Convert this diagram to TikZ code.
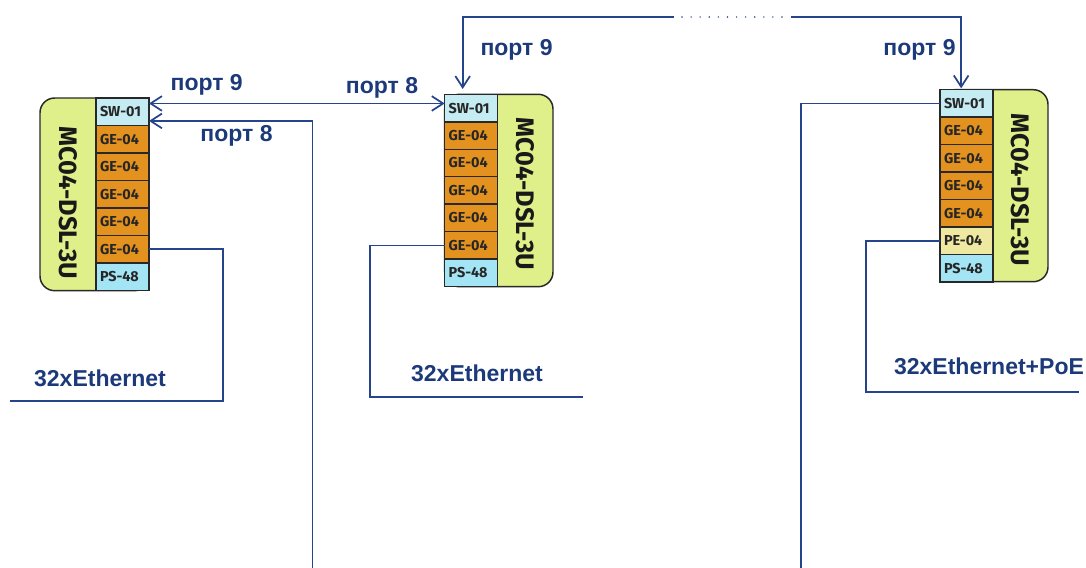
\documentclass[tikz,border=0pt]{standalone}
\usepackage{fontspec}
\setmainfont{Liberation Sans}
\newfontfamily\slotfnt{Fira Sans}
\usetikzlibrary{arrows.meta}
\definecolor{linecol}{RGB}{38,68,140}
\definecolor{txtcol}{RGB}{28,58,122}
\definecolor{bordcol}{RGB}{40,40,40}
\definecolor{swcol}{RGB}{196,236,242}
\definecolor{gecol}{RGB}{227,146,32}
\definecolor{pscol}{RGB}{163,229,245}
\definecolor{pecol}{RGB}{238,232,160}
\definecolor{bodycol}{RGB}{223,240,138}
\begin{document}
\begin{tikzpicture}[x=0.75pt,y=-0.75pt,
  body/.style={draw=bordcol,fill=bodycol,line width=1.1pt,rounded corners=11pt},
  slot/.style={draw=bordcol,line width=1.1pt,minimum width=39.75pt,minimum height=20.6pt,
    inner xsep=3pt,inner ysep=0pt,outer sep=0pt,text width=33.75pt,align=left,
    font=\slotfnt\bfseries\fontsize{10.8}{11}\selectfont,text=black!85},
  vlab/.style={rotate=-90,font=\slotfnt\bfseries\fontsize{19}{20}\selectfont,text=black!90,inner sep=0pt},
  lbl/.style={anchor=base,font=\bfseries\fontsize{17.25}{19}\selectfont,text=txtcol,inner sep=0pt},
  wire/.style={draw=linecol,line width=1.25pt},
  tip/.style={wire,arrows={-Straight Barb[length=8.5pt,width=11pt,line width=1.3pt]}},
  dtip/.style={wire,arrows={Straight Barb[length=8.5pt,width=11pt,line width=1.3pt]-Straight Barb[length=8.5pt,width=11pt,line width=1.3pt]}}
]
\useasboundingbox (0,0) rectangle (1086,568);

% ---------- module 1 ----------
\draw[body] (40,98) rectangle (149,290.7);
\node[slot,fill=swcol,anchor=north west] (m1sw) at (96,98) {SW-01};
\node[slot,fill=gecol,anchor=north] (m1ge1) at (m1sw.south) {GE-04};
\node[slot,fill=gecol,anchor=north] (m1ge2) at (m1ge1.south) {GE-04};
\node[slot,fill=gecol,anchor=north] (m1ge3) at (m1ge2.south) {GE-04};
\node[slot,fill=gecol,anchor=north] (m1ge4) at (m1ge3.south) {GE-04};
\node[slot,fill=gecol,anchor=north] (m1ge5) at (m1ge4.south) {GE-04};
\node[slot,fill=pscol,anchor=north] (m1ps) at (m1ge5.south) {PS-48};
\node[vlab] (m1lab) at (68,203) {MC04-DSL-3U};

% ---------- module 2 ----------
\draw[body] (444.7,94.3) rectangle (553,286.7);
\node[slot,fill=swcol,anchor=north west] (m2sw) at (444.7,94.3) {SW-01};
\node[slot,fill=gecol,anchor=north] (m2ge1) at (m2sw.south) {GE-04};
\node[slot,fill=gecol,anchor=north] (m2ge2) at (m2ge1.south) {GE-04};
\node[slot,fill=gecol,anchor=north] (m2ge3) at (m2ge2.south) {GE-04};
\node[slot,fill=gecol,anchor=north] (m2ge4) at (m2ge3.south) {GE-04};
\node[slot,fill=gecol,anchor=north] (m2ge5) at (m2ge4.south) {GE-04};
\node[slot,fill=pscol,anchor=north] (m2ps) at (m2ge5.south) {PS-48};
\node[vlab] (m2lab) at (525,194) {MC04-DSL-3U};

% ---------- module 3 ----------
\draw[body] (940,89.7) rectangle (1048,281.7);
\node[slot,fill=swcol,anchor=north west] (m3sw) at (940,89.7) {SW-01};
\node[slot,fill=gecol,anchor=north] (m3ge1) at (m3sw.south) {GE-04};
\node[slot,fill=gecol,anchor=north] (m3ge2) at (m3ge1.south) {GE-04};
\node[slot,fill=gecol,anchor=north] (m3ge3) at (m3ge2.south) {GE-04};
\node[slot,fill=gecol,anchor=north] (m3ge4) at (m3ge3.south) {GE-04};
\node[slot,fill=pecol,anchor=north] (m3pe) at (m3ge4.south) {PE-04};
\node[slot,fill=pscol,anchor=north] (m3ps) at (m3pe.south) {PS-48};
\node[vlab] (m3lab) at (1020,190) {MC04-DSL-3U};

% ---------- free ends ----------
\coordinate (b1) at (312.5,568);
\coordinate (g1) at (673.5,17);
\coordinate (g2) at (790.5,17);
\coordinate (d1) at (682,17);
\coordinate (d2) at (783,17);
\coordinate (c1) at (223.3,401.3);
\coordinate (e1) at (10,401.3);
\coordinate (c2) at (370,396.7);
\coordinate (e2) at (583,396.7);
\coordinate (b3) at (801,568);
\coordinate (c3) at (865.7,391.7);
\coordinate (e3) at (1079,391.7);

% ---------- connectors ----------
\draw[dtip] ([yshift=-4.1pt]m1sw.north east) -- ([yshift=-4.1pt]m1sw.north east -| m2sw.west);
\draw[tip] (b1) |- ([yshift=3.4pt]m1sw.south east);
\draw[tip] (g1) -| ([xshift=-6.4pt,yshift=4pt]m2sw.north);
\draw[tip] (g2) -| ([xshift=-4pt,yshift=1pt]m3sw.north);
\draw[draw=linecol,line width=1.2pt,line cap=round,dash pattern=on 0pt off 6.82pt] (d1) -- (d2);
\draw[wire] (m1ge5.east) -| (c1) -- (e1);
\draw[wire] (m2ge5.west) -| (c2) -- (e2);
\draw[wire] (m3sw.west) -| (b3);
\draw[wire] (m3pe.west) -| (c3) -- (e3);

% ---------- labels ----------
\node[lbl] (l1) at (206.7,90) {порт 9};
\node[lbl] (l2) at (382,93) {порт 8};
\node[lbl] (l3) at (236.5,141.7) {порт 8};
\node[lbl] (l4) at (516.6,55) {порт 9};
\node[lbl] (l5) at (919.5,55) {порт 9};
\node[lbl] (t1) at (100,386.7) {32xEthernet};
\node[lbl] (t2) at (477,381.7) {32xEthernet};
\node[lbl] (t3) at (989,374.3) {32xEthernet+PoE};
\end{tikzpicture}
\end{document}
